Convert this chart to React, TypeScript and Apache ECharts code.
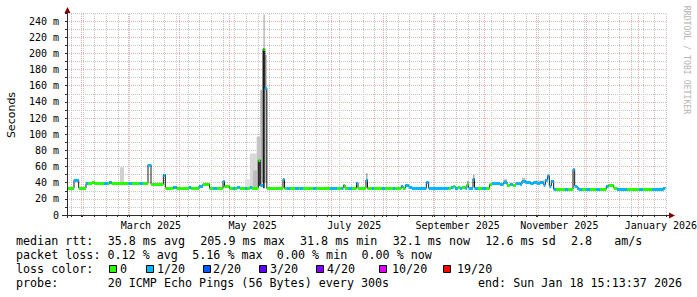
import React, { useEffect, useRef } from "react";
import * as echarts from "echarts";

// time frame: 360 days ending Sun Jan 18 15:13:37 2026 (naive local clock)
const START = Date.UTC(2025, 0, 23, 15, 13, 37);
const DAY_MS = 86400000;
const SPAN_DAYS = 360;
const END_DAY = 359.1; // last data sample
const dayOf = (y: number, m: number, d: number) => (Date.UTC(y, m, d) - START) / DAY_MS;

// median rtt, step-wise: segment start (days since START), value (ms), lost pings (of 20)
const segDay = [
  0, 4.2, 7.0, 11.4, 12.6, 15.0, 16.5, 22.2, 24.6, 25.5,
  26.7, 36.9, 39.0, 43.5, 45.6, 48.6, 50.4, 57.8, 59.0, 60.0,
  63.9, 65.7, 73.2, 74.4, 79.2, 81.6, 85.5, 87.6, 90.0, 93.6,
  94.5, 97.5, 99.6, 100.8, 102.0, 103.8, 106.8, 108.0, 109.8, 111.0,
  114.8, 116.0, 117.8, 118.7, 119.9, 129.6, 130.5, 131.7, 133.8, 136.8,
  139.2, 139.8, 141.6, 145.2, 147.6, 149.7, 157.8, 162.0, 164.7, 165.9,
  166.8, 168.6, 171.0, 173.7, 174.6, 179.4, 180.3, 183.0, 184.2, 189.0,
  190.8, 195.6, 196.8, 200.6, 201.6, 203.0, 205.0, 207.0, 215.6, 217.0,
  229.0, 230.4, 232.0, 232.8, 234.6, 235.8, 237.0, 239.0, 240.0, 241.0,
  243.6, 244.5, 246.6, 249.0, 251.4, 253.6, 255.0, 259.8, 262.0, 264.0,
  265.8, 267.6, 269.4, 272.0, 273.0, 275.0, 278.0, 280.0, 282.0, 284.0,
  286.0, 287.0, 288.4, 289.4, 290.6, 292.0, 293.4, 298.8, 300.6, 303.6,
  304.6, 306.0, 307.0, 309.0, 311.4, 313.8, 317.4, 319.8, 323.6, 325.0,
  328.0, 330.0, 336.0, 343.2, 345.6, 351.0, 358.0,
];
const segRtt = [
  33, 43.5, 33.5, 39, 39, 40.5, 39, 39.5, 39, 41,
  39, 39, 39, 39, 39, 62.5, 38, 50, 34, 32.8,
  35, 32.8, 35, 32.8, 36, 38.5, 33, 33.5, 33, 42,
  35.5, 33, 33.5, 33, 34.5, 33, 34, 33, 35, 34,
  68, 37, 206, 157, 33, 44, 33, 33, 33, 33,
  33, 33.5, 33, 34, 33.5, 33, 33.5, 33, 34, 37,
  33, 34, 33, 40, 33, 43.5, 33, 34, 33, 33,
  33, 33, 33, 36, 33, 37, 35, 33, 40.5, 33,
  34, 35, 36, 34, 35, 33, 35, 34, 38, 34,
  45, 34, 33, 34, 33, 38, 39, 38.5, 40.5, 37.5,
  38, 37, 39.5, 38, 42.5, 41, 39, 41, 39, 40.5,
  37.5, 43.5, 48.5, 36, 42.5, 32, 32, 32, 32, 56.5,
  36, 34, 32, 32, 32, 32, 32, 32, 36, 37,
  34, 32, 32, 32, 32, 32, 34,
];
const segLoss = [
  0, 1, 0, 1, 0, 0, 0, 1, 0, 1,
  0, 1, 0, 1, 0, 1, 0, 1, 0, 0,
  1, 0, 1, 0, 1, 0, 0, 1, 0, 1,
  0, 0, 1, 0, 1, 0, 1, 0, 1, 0,
  0, 1, 0, 1, 0, 1, 0, 1, 0, 1,
  0, 1, 0, 0, 1, 0, 1, 0, 1, 0,
  0, 1, 0, 1, 0, 1, 0, 1, 0, 1,
  0, 1, 0, 1, 0, 1, 1, 1, 1, 1,
  0, 1, 0, 1, 0, 1, 0, 1, 0, 1,
  1, 1, 0, 1, 0, 0, 1, 1, 1, 0,
  1, 0, 1, 1, 1, 1, 1, 1, 1, 1,
  1, 1, 1, 1, 1, 1, 0, 1, 0, 1,
  1, 1, 1, 0, 1, 0, 1, 0, 1, 0,
  0, 1, 0, 1, 0, 1, 1,
];

// smoke (spread of the individual pings)
const smokeFrom = [31.8, 106.8, 109.8, 111.6, 113.8, 114.8, 116.0, 117.0, 117.96, 118.8, 117.6, 179.4, 240.0, 243.6, 262.0, 269.4, 273.0, 282.0, 288.4];
const smokeTo = [34.2, 109.8, 113.8, 114.8, 116.0, 116.0, 117.0, 118.8, 118.3, 119.9, 118.6, 180.3, 241.0, 244.5, 264.0, 273.0, 275.0, 286.2, 289.4];
const smokeLow = [40, 34, 34, 34, 36, 36, 38, 40, 205, 40, 33, 43.5, 38, 45, 40.5, 38, 42.5, 39, 48.5];
const smokeHigh = [59, 44, 76, 55, 97, 68, 155, 205, 248, 198, 206, 52, 42, 50, 44, 40.5, 46, 42.5, 51];
const smokeShade = ["#d0d0d0", "#e0e0e0", "#d8d8d8", "#bdbdbd", "#c4c4c4", "#444444", "#b0b0b0", "#a8a8a8", "#999999", "#bbbbbb", "#222222", "#aaaaaa", "#999999", "#aaaaaa", "#aaaaaa", "#cccccc", "#bbbbbb", "#bbbbbb", "#aaaaaa"];

// loss colour legend
const lossLabels = ["0", "1/20", "2/20", "3/20", "4/20", "10/20", "19/20"];
const lossCounts = [0, 1, 2, 3, 4, 10, 19];
const lossColors = ["#26ff00", "#00b8ff", "#0059ff", "#5e00ff", "#7e00ff", "#dd00ff", "#ff0000"];
const lossBoxX = [109, 146, 203, 259, 316, 379, 443];
const lossTextX = [120, 157, 213, 270, 327, 392, 457];

// x axis labels (centred mid-month)
const monthLabels = ["March 2025", "May 2025", "July 2025", "September 2025", "November 2025", "January 2026"];
const monthLabelYM = [[2025, 2], [2025, 4], [2025, 6], [2025, 8], [2025, 10], [2026, 0]];

const legendLine1 = "median rtt:  35.8 ms avg  205.9 ms max  31.8 ms min  32.1 ms now  12.6 ms sd  2.8   am/s";
const legendLine2 = "packet loss: 0.12 % avg  5.16 % max  0.00 % min  0.00 % now";
const legendLine3 = "loss color:";
const legendLine4 = "probe:       20 ICMP Echo Pings (56 Bytes) every 300s";
const legendEnd = "end: Sun Jan 18 15:13:37 2026";
const watermark = "RRDTOOL / TOBI OETIKER";
const yAxisTitle = "Seconds";

const MONO = "DejaVu Sans Mono";
const MAJOR = "#ecb0b0";
const MINOR = "#c6c6c6";
const AXIS = "#2c2c2c";
const ARROW = "#7f0000";

export default function App() {
  const ref = useRef<HTMLDivElement>(null);

  useEffect(() => {
    const chart = echarts.init(ref.current!, null, { renderer: "svg" });

    const medianData = segDay.map((d, i) => [
      d,
      i + 1 < segDay.length ? segDay[i + 1] : END_DAY,
      segRtt[i],
      lossCounts.indexOf(segLoss[i]),
    ]);
    const stepData = segDay.map((d, i) => [d, segRtt[i]]);
    stepData.push([END_DAY, segRtt[segRtt.length - 1]]);
    const smokeData = smokeFrom.map((d, i) => [d, smokeTo[i], smokeLow[i], smokeHigh[i]]);

    // vertical grid: weekly (Sunday) minor lines, monthly major lines
    const weekDays: number[] = [];
    for (let k = 0; k < 52; k++) {
      const d = dayOf(2025, 0, 26 + 7 * k);
      if (d <= SPAN_DAYS) weekDays.push(d);
    }
    const monthDays: number[] = [];
    for (let k = 1; k <= 12; k++) monthDays.push(dayOf(2025, k, 1));
    const labelDays = monthLabelYM.map(([y, m]) => dayOf(y, m, 15));

    const CW = 7.05;
    const FS = 11.7;
    const chunks = (line: string, y: number, x0 = 16, gap = 0) => {
      const out: any[] = [];
      const re = /\S+(?: \S+)*/g;
      let m: RegExpExecArray | null;
      let k = 0;
      while ((m = re.exec(line))) {
        out.push({
          type: "text",
          x: x0 + m.index * CW + Math.max(0, k - 1) * gap,
          y,
          style: { text: m[0], fontFamily: MONO, fontSize: FS, fill: "#000", verticalAlign: "middle", align: "left" },
        });
        k++;
      }
      return out;
    };

    const graphic: any[] = [
      ...chunks(legendLine1, 241, 16, 1.0),
      ...chunks(legendLine2, 255),
      ...chunks(legendLine3, 269),
      ...chunks(legendLine4, 283),
      ...chunks(legendEnd, 283, 478),
      ...lossLabels.map((lab, i) => ({
        type: "rect",
        shape: { x: lossBoxX[i] + 0.5, y: 265.5, width: 7, height: 7 },
        style: { fill: lossColors[i], stroke: "#000", lineWidth: 1 },
      })),
      ...lossLabels.map((lab, i) => ({
        type: "text",
        x: lossTextX[i],
        y: 269,
        style: { text: lab, fontFamily: MONO, fontSize: FS, fill: "#000", verticalAlign: "middle", align: "left" },
      })),
      {
        type: "text",
        x: 11,
        y: 115,
        rotation: Math.PI / 2,
        style: { text: yAxisTitle, fontFamily: "DejaVu Sans", fontSize: 11, fill: "#000", align: "center", verticalAlign: "middle" },
      },
      {
        type: "text",
        x: 687,
        y: 60,
        rotation: -Math.PI / 2,
        style: { text: watermark, fontFamily: MONO, fontSize: 8.2, fill: "#b4b4b4", align: "center", verticalAlign: "middle" },
      },
      // axis lines and arrows
      { type: "line", shape: { x1: 62, y1: 215.5, x2: 670, y2: 215.5 }, style: { stroke: AXIS, lineWidth: 1 }, z: 10 },
      { type: "line", shape: { x1: 67.5, y1: 218, x2: 67.5, y2: 10 }, style: { stroke: AXIS, lineWidth: 1 }, z: 10 },
      { type: "polygon", shape: { points: [[64.5, 13], [70.5, 13], [67.5, 7]] }, style: { fill: ARROW }, z: 10 },
      { type: "polygon", shape: { points: [[669, 212.5], [669, 218.5], [675, 215.5]] }, style: { fill: ARROW }, z: 10 },
    ];

    const vLine = (api: any, d: number, color: string) => {
      const a = api.coord([d, 0]);
      const b = api.coord([d, 250]);
      const x = Math.round(a[0]) + 0.5;
      return {
        type: "line",
        shape: { x1: x, y1: a[1], x2: x, y2: b[1] },
        style: { stroke: color, lineWidth: 1, lineDash: [1, 1] },
      };
    };

    const option: any = {
      animation: false,
      backgroundColor: "#ffffff",
      grid: { left: 67, right: 30, top: 13, bottom: 82, containLabel: false, outerBoundsMode: "none" },
      xAxis: {
        type: "value",
        min: 0,
        max: SPAN_DAYS,
        axisLine: { show: false },
        axisTick: { show: true, customValues: [...weekDays, ...monthDays], length: 2, lineStyle: { color: AXIS } },
        axisLabel: {
          show: true,
          customValues: labelDays,
          formatter: (v: number) => {
            const i = labelDays.findIndex((d) => Math.abs(d - v) < 1e-6);
            return i >= 0 ? monthLabels[i] : "";
          },
          fontFamily: MONO,
          fontSize: 10,
          color: "#000",
          margin: 5,
        },
        splitLine: { show: false },
      },
      yAxis: {
        type: "value",
        min: 0,
        max: 250,
        interval: 10,
        axisLine: { show: false },
        axisTick: { show: true, length: 2, lineStyle: { color: AXIS } },
        axisLabel: {
          formatter: (v: number) => (v === 0 ? "0" : v % 20 === 0 && v < 250 ? `${v} m` : ""),
          fontFamily: MONO,
          fontSize: 10,
          color: "#000",
          margin: 8,
        },
        splitLine: { show: true, lineStyle: { color: [MAJOR, MINOR], type: [1, 1], width: 1 } },
      },
      series: [
        {
          type: "custom",
          name: "grid",
          z: 1,
          silent: true,
          data: [[0, 0]],
          renderItem: (params: any, api: any) => ({
            type: "group",
            children: [
              ...weekDays.map((d) => vLine(api, d, MINOR)),
              ...monthDays.map((d) => vLine(api, d, MAJOR)),
            ],
          }),
        },
        {
          type: "custom",
          name: "smoke",
          z: 2,
          clip: true,
          data: smokeData,
          encode: { x: [0, 1], y: [2, 3] },
          renderItem: (params: any, api: any) => {
            const a = api.coord([api.value(0), api.value(3)]);
            const b = api.coord([api.value(1), api.value(2)]);
            return {
              type: "rect",
              shape: { x: a[0], y: a[1], width: Math.max(b[0] - a[0], 1), height: b[1] - a[1] },
              style: { fill: smokeShade[params.dataIndex] },
            };
          },
        },
        {
          type: "line",
          name: "median connector",
          z: 3,
          data: stepData,
          step: "end",
          symbol: "none",
          lineStyle: { color: "#1a1a1a", width: 1 },
          silent: true,
        },
        {
          type: "custom",
          name: "median rtt",
          z: 4,
          clip: true,
          data: medianData,
          encode: { x: [0, 1], y: 2 },
          renderItem: (params: any, api: any) => {
            const a = api.coord([api.value(0), api.value(2)]);
            const b = api.coord([api.value(1), api.value(2)]);
            const y = Math.round(a[1]) - 1;
            return {
              type: "rect",
              shape: { x: a[0], y, width: Math.max(b[0] - a[0], 1), height: 3 },
              style: { fill: lossColors[api.value(3)] },
            };
          },
        },
      ],
      graphic,
    };

    chart.setOption(option);
    return () => chart.dispose();
  }, []);

  return (
    <div
      ref={ref}
      style={{ position: "fixed", left: 0, top: 0, width: 697, height: 297, background: "#fff" }}
    />
  );
}
